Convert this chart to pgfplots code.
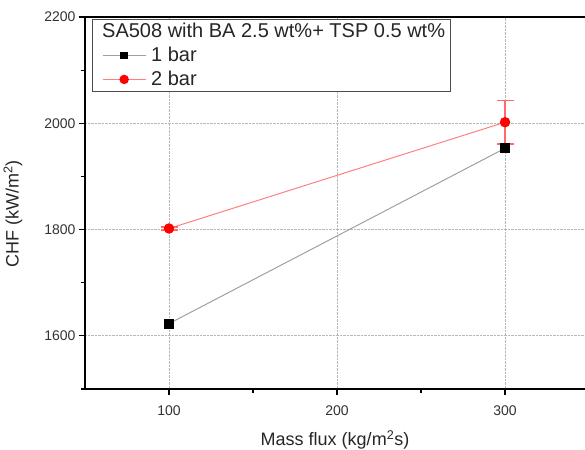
\documentclass[border=0pt]{standalone}
\usepackage{pgfplots}
\pgfplotsset{compat=1.18}
\usepackage{fontspec}
\setmainfont{Liberation Sans}
\definecolor{lineGray}{HTML}{A0A0A0}
\definecolor{lineRed}{HTML}{FF8080}
\definecolor{errRed}{HTML}{FF6A6A}
\definecolor{gridGray}{HTML}{B8B8B8}

\begin{document}
\begin{tikzpicture}
\begin{axis}[
  scale only axis, width=500pt, height=372pt,
  xmin=50, xmax=347.6, ymin=1500, ymax=2200,
  axis y line*=left, axis x line*=box,
  xtick={100,200,300}, minor xtick={150,250},
  ytick={1600,1800,2000,2200}, minor ytick={1500,1700,1900,2100},
  xtick pos=bottom, ytick pos=left,
  tick align=outside,
  major tick length=6pt, minor tick length=4pt,
  every tick/.style={black, line width=1.2pt},
  axis line style={line width=1.8pt},
  grid=major,
  major grid style={gridGray, densely dotted, line width=0.8pt},
  ticklabel style={font=\fontsize{14}{16}\selectfont, text=black!80},
  xticklabel style={yshift=-7pt},
  /pgf/number format/assume math mode=true,
  /pgf/number format/1000 sep={},
  xlabel={Mass flux (kg/m\textsuperscript{2}s)},
  ylabel={CHF (kW/m\textsuperscript{2})},
  label style={font=\fontsize{18}{20}\selectfont, text=black!85},
  xlabel style={at={(axis description cs:0.5,0)}, anchor=center, yshift=-51pt},
  ylabel style={at={(axis description cs:-0.144,0.47)}, anchor=center},
  legend image code/.code={
    \path (0pt,0pt);
    \draw[mark repeat=2, mark phase=2, #1]
      plot coordinates {(7pt,0pt) (28.5pt,0pt) (50pt,0pt)};},
  legend style={at={(axis cs:54,2200)}, anchor=north west, yshift=-2pt,
    draw=black!70, line width=0.9pt,
    font=\fontsize{20}{24}\selectfont, text=black!85, inner xsep=3pt, inner ysep=2pt,
    row sep=4pt, column sep=3pt},
  legend cell align=left,
  clip=false,
]
\addlegendimage{empty legend}
\addlegendentry{\hspace{-49pt}SA508 with BA 2.5 wt\%+ TSP 0.5 wt\%}
\addlegendimage{lineGray, line width=1pt, mark=square*, mark size=3.2pt, mark options={black, solid}}
\addlegendentry{1 bar}
\addlegendimage{lineRed, line width=1pt, mark=*, mark size=4.2pt, mark options={red, solid}}
\addlegendentry{2 bar}
\addplot[forget plot, lineGray, line width=1pt, mark=square*, mark size=4.4pt,
  mark options={black, solid}] coordinates {(100,1623) (300,1953)};
\addplot[forget plot, lineRed, line width=1pt, mark=*, mark size=4.7pt,
  mark options={red, solid},
  error bars/.cd, y dir=both, y explicit,
  error bar style={draw=errRed, solid, line width=1.3pt},
  error mark options={draw=errRed, rotate=90, mark size=8.5pt, line width=1.3pt}]
  coordinates {(100,1802) +- (0,3) (300,2002) +- (0,41)};
\end{axis}
\pgfresetboundingbox
\path[use as bounding box] ([shift={(-85pt,-61pt)}]current axis.south west)
  rectangle ([shift={(0pt,17pt)}]current axis.north east);
\end{tikzpicture}
\end{document}
